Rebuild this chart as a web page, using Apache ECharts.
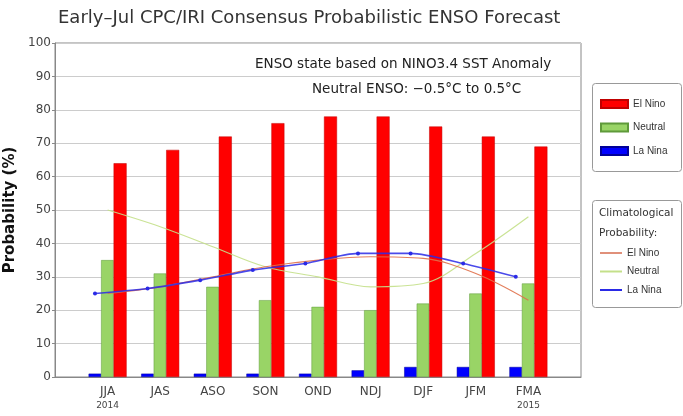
<!DOCTYPE html>
<html><head><meta charset="utf-8">
<script src="https://cdn.jsdelivr.net/npm/echarts@6/dist/echarts.min.js"></script>
<style>html,body{margin:0;padding:0;background:#fff}#c{width:683px;height:416px}</style>
</head><body><div id="c"></div>
<script>
// ---- data ----
const periods = ['JJA','JAS','ASO','SON','OND','NDJ','DJF','JFM','FMA'];
const yearLabels = { JJA: '2014', FMA: '2015' };
const elNino  = [64, 68, 72, 76, 78, 78, 75, 72, 69];
const neutral = [35, 31, 27, 23, 21, 20, 22, 25, 28];
const laNina  = [1, 1, 1, 1, 1, 2, 3, 3, 3];
const climElNino  = [25, 27, 30, 33, 35, 36, 35.5, 31, 23];
const climNeutral = [50, 45, 39, 33, 30, 27, 28, 37, 48];
const climLaNina  = [25, 26.5, 29, 32, 34, 37, 37, 34, 30];
const yMin = 0, yMax = 100, yStep = 10;

// ---- styles ----
const FONT = 'Liberation Sans, Arial, sans-serif';
const WFONT = 'DejaVu Sans, Verdana, sans-serif';
const laNinaLineShift = -0.24; // clim La Nina points sit over the blue bars
const pad = v => ['-', ...v, '-'];
const cats = ['', ...periods, ''];

const chart = echarts.init(document.getElementById('c'), null, { renderer: 'canvas' });
chart.setOption({
  animation: false,
  backgroundColor: '#fff',
  textStyle: { fontFamily: FONT },
  title: {
    text: 'Early\u2013Jul CPC/IRI Consensus Probabilistic ENSO Forecast',
    left: 58, top: 9, padding: 0,
    textStyle: { fontFamily: WFONT, fontSize: 18, fontWeight: 'normal', color: '#333' }
  },
  grid: { left: 55, right: 102, top: 43, bottom: 39, show: true, borderColor: '#888', borderWidth: 1,
          containLabel: false, outerBoundsMode: 'none' },
  xAxis: [{
    type: 'category', data: cats, boundaryGap: false,
    axisLine: { lineStyle: { color: '#888' } },
    axisTick: { show: false },
    axisLabel: {
      interval: 0, margin: 8, color: '#444', fontFamily: WFONT, fontSize: 12, lineHeight: 14,
      formatter: v => yearLabels[v] ? v + '\n{y|' + yearLabels[v] + '}' : v,
      rich: { y: { fontFamily: WFONT, fontSize: 9, color: '#444', lineHeight: 14 } }
    },
    name: 'Time Period', nameLocation: 'middle', nameGap: 30,
    nameTextStyle: { fontFamily: WFONT, fontSize: 15, fontWeight: 'bold', color: '#111' }
  }, {
    type: 'value', min: 0, max: cats.length - 1, show: false
  }],
  yAxis: {
    type: 'value', min: yMin, max: yMax, interval: yStep,
    axisLine: { show: true, lineStyle: { color: '#888' } },
    axisTick: { show: true, length: 3, lineStyle: { color: '#888' } },
    axisLabel: { color: '#444', fontFamily: WFONT, fontSize: 12, margin: 4 },
    splitLine: { lineStyle: { color: '#ccc' } },
    name: 'Probability (%)', nameLocation: 'middle', nameGap: 28,
    nameTextStyle: { fontFamily: WFONT, fontSize: 15, fontWeight: 'bold', color: '#111' }
  },
  legend: [{
    left: 600, top: 98, padding: 0, orient: 'vertical', itemGap: 11.5,
    itemWidth: 27, itemHeight: 8, selectedMode: false,
    data: [{ name: 'El Nino', icon: 'rect' }, { name: 'Neutral', icon: 'rect' }, { name: 'La Nina', icon: 'rect' }],
    textStyle: { fontSize: 10, color: '#333', lineHeight: 12 }
  }, {
    left: 600, top: 247, padding: 0, orient: 'vertical', itemGap: 6.5,
    itemWidth: 22, itemHeight: 2, selectedMode: false,
    data: [{ name: 'El Nino clim', icon: 'rect' }, { name: 'Neutral clim', icon: 'rect' }, { name: 'La Nina clim', icon: 'rect' }],
    formatter: n => n.replace(' clim', ''),
    textStyle: { fontSize: 10, color: '#333', lineHeight: 12 }
  }],
  graphic: [
    { type: 'rect', left: 592, top: 83, z: -1, shape: { width: 89, height: 88, r: 3 }, style: { fill: '#fff', stroke: '#999', lineWidth: 1 } },
    { type: 'rect', left: 592, top: 200, z: -1, shape: { width: 89, height: 107, r: 3 }, style: { fill: '#fff', stroke: '#999', lineWidth: 1 } },
    { type: 'text', left: 599, top: 203, style: { text: 'Climatological\nProbability:', fontSize: 10.5, lineHeight: 20, fill: '#333', fontFamily: WFONT } },
    { type: 'text', left: 255, top: 57, z: 10, style: { text: 'ENSO state based on NINO3.4 SST Anomaly', fontSize: 13.5, fill: '#222', fontFamily: WFONT } },
    { type: 'text', left: 312, top: 82, z: 10, style: { text: 'Neutral ENSO: \u22120.5\u00B0C to 0.5\u00B0C', fontSize: 13.5, fill: '#222', fontFamily: WFONT } }
  ],
  series: [
    { name: 'La Nina', type: 'bar', data: pad(laNina), barWidth: 12.5, barGap: '0%',
      itemStyle: { color: '#0000ff', borderColor: '#000099', borderWidth: 0.5 } },
    { name: 'Neutral', type: 'bar', data: pad(neutral), barWidth: 12.5, barGap: '0%',
      itemStyle: { color: '#99d466', borderColor: '#5f9a3a', borderWidth: 0.5 } },
    { name: 'El Nino', type: 'bar', data: pad(elNino), barWidth: 13, barGap: '0%',
      itemStyle: { color: '#ff0000', borderColor: '#c00000', borderWidth: 0.5 } },
    { name: 'Neutral clim', type: 'line', data: pad(climNeutral), smooth: 0.35, showSymbol: false,
      lineStyle: { color: '#c4e08a', width: 1.2, opacity: 0.9 }, itemStyle: { color: '#c4e08a' } },
    { name: 'El Nino clim', type: 'line', data: pad(climElNino), smooth: 0.35, showSymbol: false,
      lineStyle: { color: '#e0704a', width: 1.2, opacity: 0.9 }, itemStyle: { color: '#e0907a' } },
    { name: 'La Nina clim', type: 'line', xAxisIndex: 1,
      data: climLaNina.map((v, i) => [i + 1 + laNinaLineShift, v]), smooth: 0.25,
      symbol: 'circle', symbolSize: 4, showSymbol: true,
      lineStyle: { color: '#2a2ae6', width: 1.6, opacity: 0.85 }, itemStyle: { color: '#2a2ae6' } }
  ]
});
</script></body></html>
